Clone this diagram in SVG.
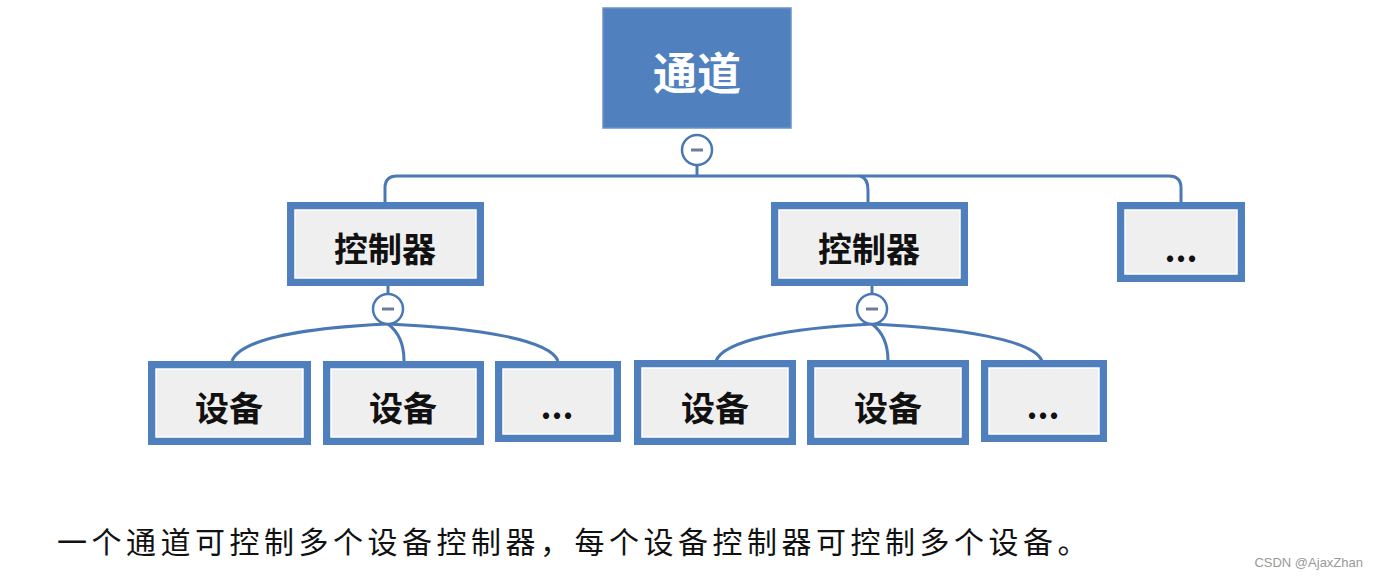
<svg xmlns="http://www.w3.org/2000/svg" width="1375" height="579" viewBox="0 0 1375 579">
<style>
.frame{fill:#4f7fbd;}
.inner{fill:#efefef;stroke:#ffffff;stroke-width:1.5;}
.lbl{font-family:"Noto Sans CJK SC","Noto Sans",sans-serif;font-weight:bold;font-size:34px;fill:#111;text-anchor:middle;dominant-baseline:central;}
.conn{fill:none;stroke:#4a78b4;stroke-width:3;}
.toggle circle{fill:#fff;stroke:#4a78b4;stroke-width:2.5;}
.toggle line{stroke:#6e7b99;stroke-width:3;}
</style>
<rect width="1375" height="579" fill="#ffffff"/>
<g id="connectors">
<path class="conn" d="M697 164 V176"/>
<path class="conn" d="M385 202 V188 Q385 176 397 176 H1169 Q1181 176 1181 188 V202"/>
<path class="conn" d="M860 176 Q868 178 868 190 V202"/>
<path class="conn" d="M388 286 V294"/>
<path class="conn" d="M388 324 C300 328 240 340 232 361"/>
<path class="conn" d="M388 324 C400 333 404 345 404 361"/>
<path class="conn" d="M388 324 C480 328 550 340 558 361"/>
<path class="conn" d="M872 286 V294"/>
<path class="conn" d="M872 324 C790 328 724 340 716 361"/>
<path class="conn" d="M872 324 C884 333 888 345 888 361"/>
<path class="conn" d="M872 324 C960 328 1034 340 1042 361"/>
</g>
<g id="root">
<rect x="603" y="8" width="188" height="120" fill="#5081be" stroke="#6a93c9" stroke-width="1.5"/>
<text x="697" y="71" font-family="Noto Sans CJK SC, sans-serif" font-weight="bold" font-size="44" fill="#ffffff" text-anchor="middle" dominant-baseline="central">通道</text>
</g>
<g id="toggle-root" class="toggle"><circle cx="697" cy="150" r="15"/><line x1="691" y1="150" x2="703" y2="150"/></g>
<g id="ctrl1"><rect class="frame" x="287" y="202" width="197" height="84"/><rect class="inner" x="295" y="210" width="181" height="68"/><text class="lbl" x="385" y="247">控制器</text></g>
<g id="ctrl2"><rect class="frame" x="771" y="202" width="197" height="84"/><rect class="inner" x="779" y="210" width="181" height="68"/><text class="lbl" x="869" y="247">控制器</text></g>
<g id="ctrl3"><rect class="frame" x="1117" y="202" width="128" height="80"/><rect class="inner" x="1125" y="210" width="112" height="64"/><text class="lbl" x="1181" y="247">...</text></g>
<g id="toggle-c1" class="toggle"><circle cx="388" cy="309" r="15"/><line x1="382" y1="309" x2="394" y2="309"/></g>
<g id="toggle-c2" class="toggle"><circle cx="872" cy="309" r="15"/><line x1="866" y1="309" x2="878" y2="309"/></g>
<g id="dev1"><rect class="frame" x="148" y="361" width="163" height="84"/><rect class="inner" x="156" y="369" width="147" height="68"/><text class="lbl" x="229" y="406">设备</text></g>
<g id="dev2"><rect class="frame" x="323" y="361" width="161" height="84"/><rect class="inner" x="331" y="369" width="145" height="68"/><text class="lbl" x="403" y="406">设备</text></g>
<g id="dev3"><rect class="frame" x="495" y="361" width="126" height="81"/><rect class="inner" x="503" y="369" width="110" height="65"/><text class="lbl" x="557" y="404">...</text></g>
<g id="dev4"><rect class="frame" x="634" y="360" width="162" height="85"/><rect class="inner" x="642" y="368" width="146" height="69"/><text class="lbl" x="715" y="406">设备</text></g>
<g id="dev5"><rect class="frame" x="807" y="360" width="162" height="85"/><rect class="inner" x="815" y="368" width="146" height="69"/><text class="lbl" x="888" y="406">设备</text></g>
<g id="dev6"><rect class="frame" x="981" y="360" width="126" height="82"/><rect class="inner" x="989" y="368" width="110" height="66"/><text class="lbl" x="1043" y="404">...</text></g>
<text x="57" y="553" font-family="Noto Sans CJK SC, sans-serif" font-size="30" letter-spacing="4.5" fill="#111">一个通道可控制多个设备控制器，每个设备控制器可控制多个设备。</text>
<text x="1363" y="567" font-family="Liberation Sans, Arial, sans-serif" font-size="13" fill="#999" text-anchor="end">CSDN @AjaxZhan</text>
</svg>
